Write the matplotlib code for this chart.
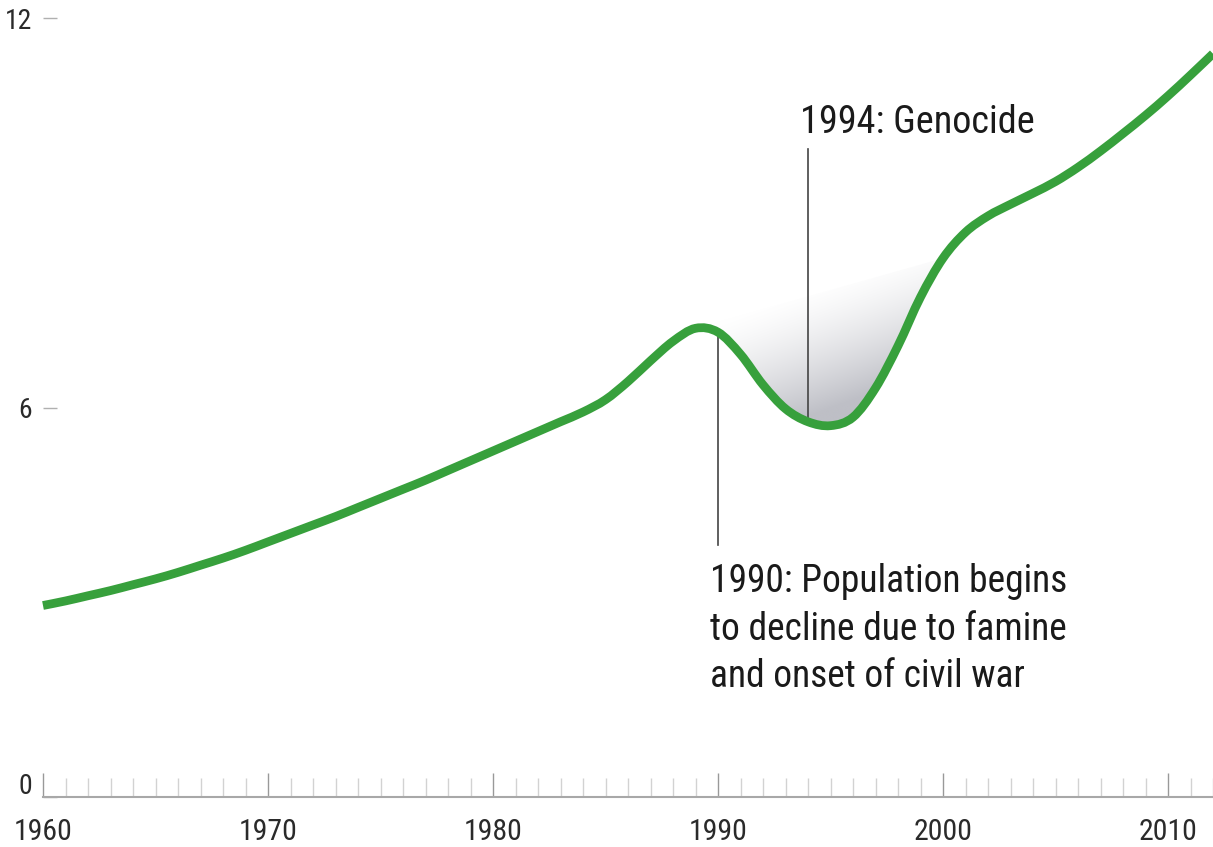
import numpy as np
import matplotlib
matplotlib.use("Agg")
import matplotlib.pyplot as plt
import matplotlib.transforms as mtransforms
from matplotlib.path import Path
from matplotlib.patches import PathPatch
from matplotlib.colors import LinearSegmentedColormap

plt.rcParams['font.family'] = ['Roboto Condensed', 'Archivo Narrow', 'PT Sans Narrow',
                               'Liberation Sans', 'DejaVu Sans']

# population, millions
years = list(range(1960, 2013))
population = [2.95, 3.02, 3.10, 3.18, 3.27, 3.36, 3.46, 3.57, 3.68, 3.80,
              3.93, 4.06, 4.19, 4.32, 4.46, 4.60, 4.74, 4.88, 5.03, 5.18,
              5.33, 5.48, 5.63, 5.78, 5.93, 6.12, 6.40, 6.72, 7.02, 7.22,
              7.16, 6.82, 6.35, 5.98, 5.78, 5.72, 5.85, 6.30, 6.95, 7.70,
              8.30, 8.70, 8.95, 9.13, 9.30, 9.48, 9.70, 9.95, 10.22, 10.50,
              10.80, 11.12, 11.45]

y_ticks = [0, 6, 12]
x_ticks = [1960, 1970, 1980, 1990, 2000, 2010]

events = [
    (1990, 3.88, "1990: Population begins\nto decline due to famine\nand onset of civil war"),
    (1994, 9.98, "1994: Genocide"),
]


def smooth_path(xs, ys):
    """Catmull-Rom through the points, as cubic bezier segments."""
    pts = np.column_stack([xs, ys]).astype(float)
    n = len(pts)
    verts = [pts[0]]
    codes = [Path.MOVETO]
    for i in range(n - 1):
        p0 = pts[max(i - 1, 0)]
        p1, p2 = pts[i], pts[i + 1]
        p3 = pts[min(i + 2, n - 1)]
        verts += [p1 + (p2 - p0) / 6, p2 - (p3 - p1) / 6, p2]
        codes += [Path.CURVE4] * 3
    return verts, codes


W, H = 1213, 847
fig = plt.figure(figsize=(W / 100, H / 100), dpi=100)
ax = fig.add_axes([43 / W, (H - 797) / H, 1 - 43 / W, (797 - 18) / H])

yrs = np.array(years)
pop = np.array(population)

# shaded wedge under an imaginary line from the 1989 peak to 2000
i0, i1 = years.index(1989), years.index(2000)
v, c = smooth_path(yrs[i0 - 1:i1 + 2], pop[i0 - 1:i1 + 2])
v, c = v[3:-3], [Path.MOVETO] + c[4:-3]
x_a, y_a = years[i0], population[i0]
x_b, y_b = years[i1], population[i1] + 0.3
v = v + [(x_a, y_a), v[0]]
c = c + [Path.LINETO, Path.CLOSEPOLY]
clip = PathPatch(Path(v, c), facecolor='none', edgecolor='none', transform=ax.transData)
ax.add_patch(clip)

gx = np.linspace(x_a, x_b, 300)
gy = np.linspace(5.6, 8.8, 300)
GX, GY = np.meshgrid(gx, gy)
top = y_a + (y_b - y_a) * (GX - x_a) / (x_b - x_a)
shade = np.clip((top - GY) / 2.0, 0, 1) ** 1.4
cmap = LinearSegmentedColormap.from_list('g', ['#ffffff', '#bebfc6'])
im = ax.imshow(shade, extent=[x_a, x_b, 5.6, 8.8], origin='lower', aspect='auto',
               cmap=cmap, vmin=0, vmax=1, interpolation='bilinear', zorder=1)
im.set_clip_path(clip)

# annotation leaders
for yr, end, label in events:
    yv = population[years.index(yr)]
    ax.plot([yr, yr], [yv, end], color='#444444', lw=1.2, zorder=2)

lv, lc = smooth_path(yrs, pop)
ax.add_patch(PathPatch(Path(lv, lc), facecolor='none', edgecolor='#37a03c', lw=6.3,
                       capstyle='butt', joinstyle='round', zorder=3, clip_on=False))

ax.text(1989.64, 1.69, events[0][2], fontsize=27, color='#1a1a1a',
        va='baseline', ha='left', linespacing=1.37)
ax.text(1993.64, 10.23, events[1][2], fontsize=27.5, color='#1a1a1a',
        va='baseline', ha='left')

ax.set_xlim(1960, 2012)
ax.set_ylim(0, 12)
for s in ['top', 'right', 'left']:
    ax.spines[s].set_visible(False)
ax.spines['bottom'].set_color('#a8a8a8')
ax.spines['bottom'].set_linewidth(1.5)

ax.set_xticks(x_ticks)
ax.set_xticks(years, minor=True)
ax.tick_params(axis='x', which='major', direction='in', length=17, width=1,
               color='#999999', pad=15, labelsize=21.5, labelcolor='#2a2a2a')
ax.tick_params(axis='x', which='minor', direction='in', length=14, width=1,
               color='#d2d2d2')
ax.set_yticks(y_ticks)
ax.tick_params(axis='y', direction='in', length=10, width=1, color='#b0b0b0',
               pad=8, labelsize=20, labelcolor='#2a2a2a')

# the zero label sits a little above the baseline
zero = ax.get_yticklabels()[0]
zero.set_transform(zero.get_transform() + mtransforms.ScaledTranslation(0, 10 / 72, fig.dpi_scale_trans))

fig.savefig('out.png', dpi=100, facecolor='white')
